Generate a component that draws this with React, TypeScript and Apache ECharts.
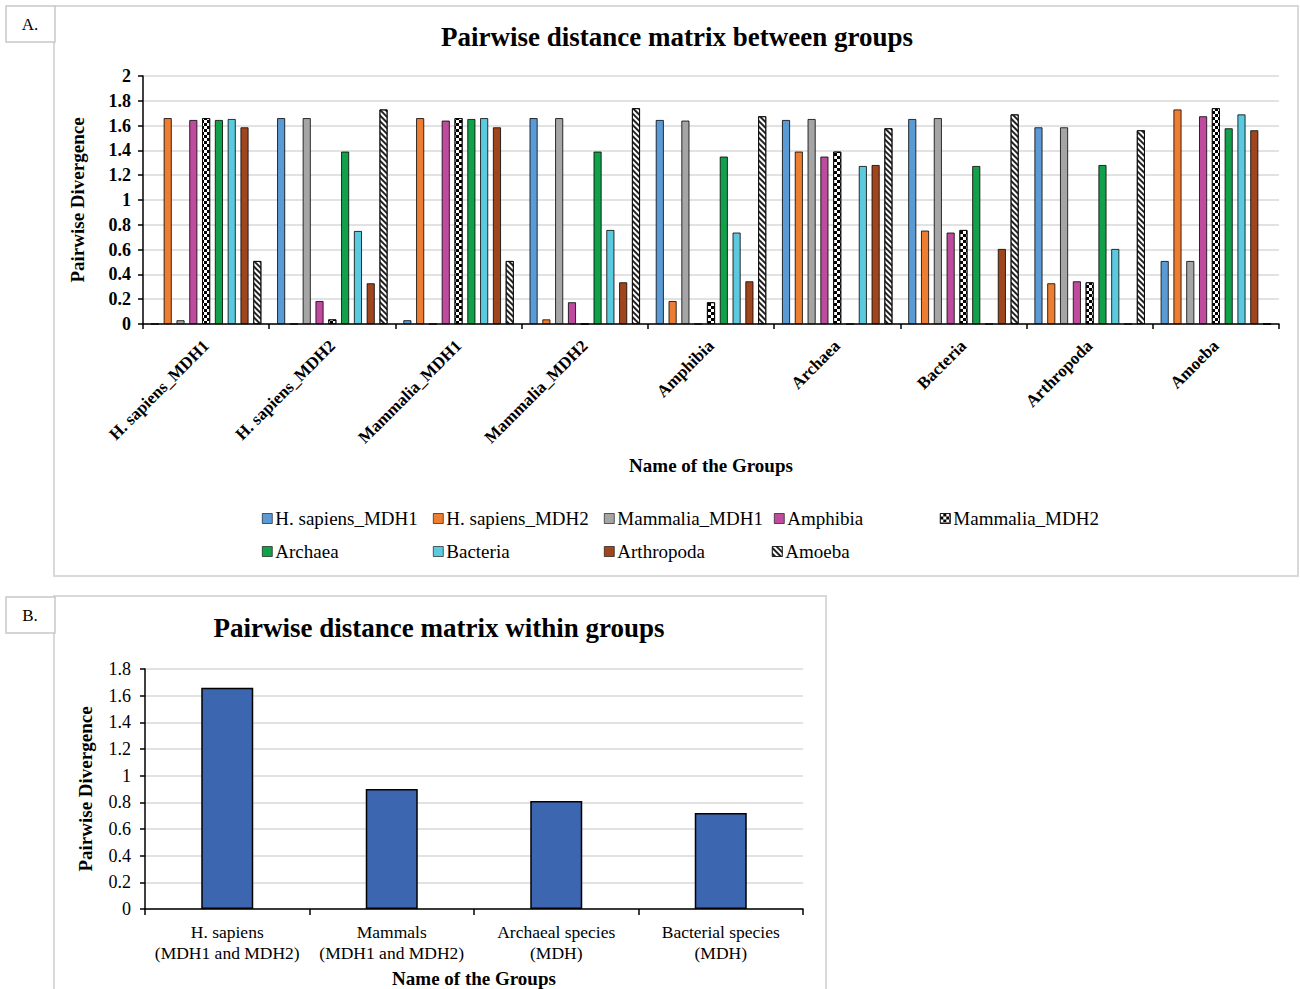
import React, { useEffect, useRef } from 'react';
import * as echarts from 'echarts';

// ---------- Data ----------
const groupsA = [
  'H. sapiens_MDH1',
  'H. sapiens_MDH2',
  'Mammalia_MDH1',
  'Mammalia_MDH2',
  'Amphibia',
  'Archaea',
  'Bacteria',
  'Arthropoda',
  'Amoeba',
];

const seriesNamesA = [
  'H. sapiens_MDH1',
  'H. sapiens_MDH2',
  'Mammalia_MDH1',
  'Amphibia',
  'Mammalia_MDH2',
  'Archaea',
  'Bacteria',
  'Arthropoda',
  'Amoeba',
];

const hSapiensMDH1 = [0, 1.66, 0.03, 1.66, 1.645, 1.645, 1.653, 1.586, 0.508];
const hSapiensMDH2 = [1.66, 0, 1.66, 0.037, 0.185, 1.39, 0.753, 0.328, 1.73];
const mammaliaMDH1 = [0.03, 1.66, 0, 1.66, 1.64, 1.653, 1.66, 1.586, 0.508];
const amphibia = [1.645, 0.185, 1.64, 0.175, 0, 1.35, 0.737, 0.344, 1.675];
const mammaliaMDH2 = [1.66, 0.037, 1.66, 0, 0.175, 1.39, 0.758, 0.336, 1.74];
const archaea = [1.645, 1.39, 1.653, 1.39, 1.35, 0, 1.274, 1.282, 1.578];
const bacteria = [1.653, 0.75, 1.66, 0.758, 0.737, 1.274, 0, 0.605, 1.69];
const arthropoda = [1.586, 0.328, 1.586, 0.336, 0.344, 1.282, 0.605, 0, 1.562];
const amoeba = [0.508, 1.73, 0.508, 1.74, 1.675, 1.578, 1.69, 1.562, 0];

const groupsB = [
  'H. sapiens\n(MDH1 and MDH2)',
  'Mammals\n(MDH1 and MDH2)',
  'Archaeal species\n(MDH)',
  'Bacterial species\n(MDH)',
];
const withinValues = [1.66, 0.9, 0.81, 0.72];

const titleA = 'Pairwise distance matrix between groups';
const titleB = 'Pairwise distance matrix within groups';
const xNameAll = 'Name of the Groups';
const yNameAll = 'Pairwise Divergence';

// ---------- Styles ----------
const FONT = '"Liberation Serif", "Times New Roman", serif';
const COLORS = ['#5b9bd5', '#ed7d31', '#a5a5a5', '#bf4b9f', '#ffffff', '#13a04b', '#5bc9de', '#a0461e', '#ffffff'];

const checkerDecal = {
  symbol: 'rect',
  symbolSize: 1,
  dashArrayX: [[3, 3], [0, 3, 3, 0]],
  dashArrayY: [3, 0],
  color: '#000',
};
const hatchDecal = {
  symbol: 'rect',
  symbolSize: 1,
  dashArrayX: [1, 0],
  dashArrayY: [2, 2],
  rotation: Math.PI / 4,
  color: '#222',
};
const DECALS: any[] = [null, null, null, null, checkerDecal, null, null, null, hatchDecal];

const legendPos = [
  [262, 509], [433, 509], [604, 509], [774, 509], [940, 509],
  [262, 542], [433, 542], [604, 542], [772, 542],
];

export default function App() {
  const ref = useRef<HTMLDivElement>(null);

  useEffect(() => {
    const chart = echarts.init(ref.current!, null, { renderer: 'svg', width: 1300, height: 989 });
    const seriesDataA = [hSapiensMDH1, hSapiensMDH2, mammaliaMDH1, amphibia, mammaliaMDH2, archaea, bacteria, arthropoda, amoeba];

    const seriesA = seriesNamesA.map((name, i) => {
      const itemStyle: any = { color: COLORS[i], borderColor: '#000', borderWidth: 0.8 };
      if (DECALS[i]) itemStyle.decal = DECALS[i];
      return {
        type: 'bar',
        name,
        xAxisIndex: 0,
        yAxisIndex: 0,
        data: seriesDataA[i],
        barWidth: 8,
        barGap: '60%',
        itemStyle,
      };
    });

    const legends = seriesNamesA.map((name, i) => ({
      data: [name],
      left: legendPos[i][0],
      top: legendPos[i][1],
      padding: 0,
      icon: 'rect',
      itemWidth: 10,
      itemHeight: 10,
      selectedMode: false,
      itemStyle: { borderColor: '#000', borderWidth: 0.6 },
      textStyle: { fontFamily: FONT, fontSize: 19, color: '#000', padding: [0, 0, 0, -2] },
    }));

    const axisLineBlack = { show: true, lineStyle: { color: '#000', width: 1.5 } };

    const option: any = {
      animation: false,
      backgroundColor: '#fff',
      legend: legends,
      grid: [
        { left: 143, top: 76, width: 1136, height: 248 },
        { left: 145, top: 669, width: 658, height: 243 },
      ],
      xAxis: [
        {
          type: 'category',
          gridIndex: 0,
          data: groupsA,
          axisLine: axisLineBlack,
          axisTick: { show: true, length: 5, lineStyle: { color: '#000', width: 1.5 } },
          axisLabel: {
            interval: 0,
            rotate: 45,
            margin: 19,
            fontFamily: FONT,
            fontWeight: 'bold',
            fontSize: 17,
            color: '#000',
          },
          name: xNameAll,
          nameLocation: 'middle',
          nameGap: 132,
          nameTextStyle: { fontFamily: FONT, fontWeight: 'bold', fontSize: 19, color: '#000' },
        },
        {
          type: 'category',
          gridIndex: 1,
          data: groupsB,
          axisLine: axisLineBlack,
          axisTick: { show: true, length: 6, lineStyle: { color: '#000', width: 1.5 } },
          axisLabel: {
            interval: 0,
            margin: 12,
            fontFamily: FONT,
            fontSize: 17.5,
            lineHeight: 21,
            color: '#000',
          },
          name: xNameAll,
          nameLocation: 'middle',
          nameGap: 60,
          nameTextStyle: { fontFamily: FONT, fontWeight: 'bold', fontSize: 19, color: '#000' },
        },
      ],
      yAxis: [
        {
          type: 'value',
          gridIndex: 0,
          min: 0,
          max: 2,
          interval: 0.2,
          axisLine: axisLineBlack,
          axisTick: { show: true, length: 5, lineStyle: { color: '#000', width: 1.5 } },
          splitLine: { lineStyle: { color: '#d9d9d9', width: 1.5 } },
          axisLabel: { margin: 12, fontFamily: FONT, fontWeight: 'bold', fontSize: 18, color: '#000' },
          name: yNameAll,
          nameLocation: 'middle',
          nameGap: 56,
          nameTextStyle: { fontFamily: FONT, fontWeight: 'bold', fontSize: 19, color: '#000' },
        },
        {
          type: 'value',
          gridIndex: 1,
          min: 0,
          max: 1.8,
          interval: 0.2,
          axisLine: axisLineBlack,
          axisTick: { show: true, length: 5, lineStyle: { color: '#000', width: 1.5 } },
          splitLine: { lineStyle: { color: '#d9d9d9', width: 1.5 } },
          axisLabel: { margin: 14, fontFamily: FONT, fontSize: 18, color: '#000' },
          name: yNameAll,
          nameLocation: 'middle',
          nameGap: 50,
          nameTextStyle: { fontFamily: FONT, fontWeight: 'bold', fontSize: 19, color: '#000' },
        },
      ],
      series: [
        ...seriesA,
        {
          type: 'bar',
          name: 'Within groups',
          xAxisIndex: 1,
          yAxisIndex: 1,
          data: withinValues,
          barWidth: 52,
          itemStyle: { color: '#3d66b1', borderColor: '#000', borderWidth: 1.5 },
        },
      ],
      graphic: [
        { type: 'rect', shape: { x: 54, y: 6, width: 1244, height: 570 }, style: { fill: 'none', stroke: '#d9d9d9', lineWidth: 2 }, silent: true },
        { type: 'rect', shape: { x: 54, y: 596, width: 772, height: 400 }, style: { fill: 'none', stroke: '#d9d9d9', lineWidth: 2 }, silent: true },
        { type: 'rect', shape: { x: 6, y: 6, width: 49, height: 36 }, style: { fill: '#fff', stroke: '#c8c8c8', lineWidth: 1.5 }, silent: true },
        { type: 'rect', shape: { x: 6, y: 597, width: 49, height: 36 }, style: { fill: '#fff', stroke: '#c8c8c8', lineWidth: 1.5 }, silent: true },
        { type: 'text', x: 30, y: 24, style: { text: 'A.', font: `17px ${FONT}`, fill: '#000', align: 'center', verticalAlign: 'middle' }, silent: true },
        { type: 'text', x: 30, y: 615, style: { text: 'B.', font: `17px ${FONT}`, fill: '#000', align: 'center', verticalAlign: 'middle' }, silent: true },
        { type: 'text', x: 677, y: 37, style: { text: titleA, font: `bold 27px ${FONT}`, fill: '#000', align: 'center', verticalAlign: 'middle' }, silent: true },
        { type: 'text', x: 439, y: 628, style: { text: titleB, font: `bold 27px ${FONT}`, fill: '#000', align: 'center', verticalAlign: 'middle' }, silent: true },
      ],
    };

    chart.setOption(option);
    return () => chart.dispose();
  }, []);

  return (
    <div
      ref={ref}
      style={{ position: 'absolute', left: 0, top: 0, width: 1300, height: 989, background: '#fff' }}
    />
  );
}
